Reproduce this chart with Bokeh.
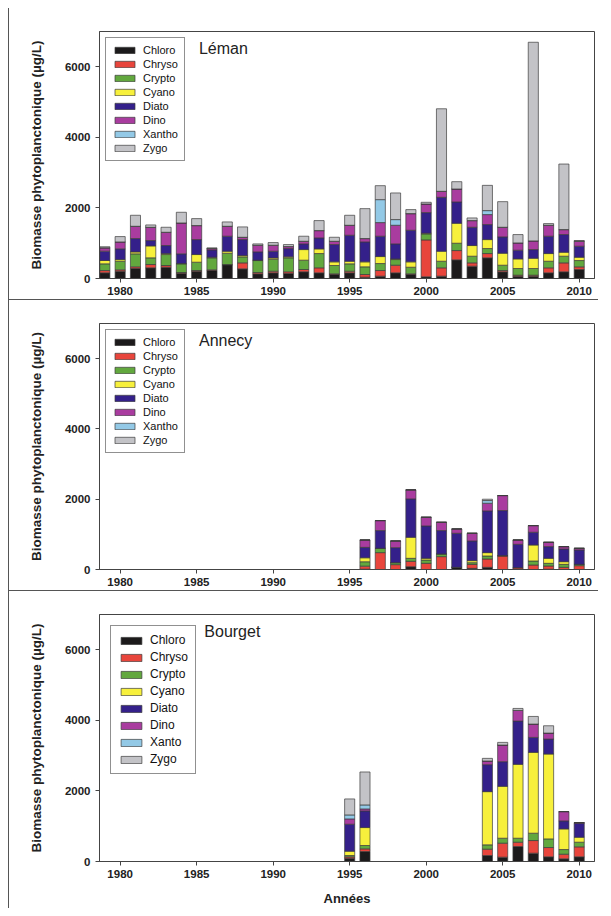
from bokeh.plotting import figure
from bokeh.models import Range1d, FixedTicker, Legend, LegendItem, Label, ColumnDataSource
from bokeh.layouts import column
from bokeh.embed import file_html
from bokeh.resources import INLINE

FONT = "Liberation Sans"

groups = ["Chloro", "Chryso", "Crypto", "Cyano", "Diato", "Dino", "Xantho", "Zygo"]
colors = ["#1c1a1b", "#e8453c", "#62a83e", "#f7f03c", "#34208a", "#a93c9f", "#93c9e6", "#c3c3c7"]
x_ticks = [1980, 1985, 1990, 1995, 2000, 2005, 2010]
y_ticks = [0, 2000, 4000, 6000]

# ---- Léman ----
leman_years = list(range(1979, 2011))
leman_chloro = [160, 207, 283, 302, 320, 151, 207, 226, 387, 273, 132, 160, 141, 189, 160, 113,
                160, 38, 66, 160, 113, 47, 66, 528, 349, 585, 189, 66, 66, 160, 189, 255]
leman_chryso = [65, 38, 47, 94, 48, 19, 19, 19, 9, 170, 38, 47, 48, 66, 142, 19,
                47, 75, 160, 217, 19, 1047, 236, 264, 94, 122, 37, 28, 28, 142, 254, 75]
leman_crypto = [190, 245, 368, 189, 311, 245, 236, 340, 321, 170, 339, 340, 396, 264, 405, 236,
                208, 217, 198, 160, 188, 170, 188, 208, 189, 142, 151, 189, 189, 188, 189, 179]
leman_cyano = [95, 47, 56, 339, 28, 9, 217, 18, 56, 38, 10, 37, 28, 301, 132, 104,
               75, 142, 198, 19, 152, 19, 283, 565, 302, 254, 340, 273, 292, 217, 113, 94]
leman_diato = [265, 303, 378, 151, 227, 274, 424, 208, 425, 452, 235, 189, 236, 161, 311, 490,
               736, 565, 576, 425, 895, 584, 1528, 604, 518, 425, 462, 246, 245, 491, 500, 312]
leman_dino = [95, 197, 348, 377, 377, 877, 397, 38, 282, 66, 189, 170, 56, 75, 208, 94,
              283, 95, 386, 528, 472, 245, 170, 368, 189, 283, 273, 207, 246, 311, 141, 141]
leman_xantho = [0, 0, 0, 0, 0, 0, 0, 0, 0, 0, 0, 0, 0, 0, 0, 0,
                0, 0, 651, 160, 0, 0, 0, 0, 0, 113, 0, 0, 0, 0, 0, 0]
leman_zygo = [30, 151, 312, 66, 141, 302, 197, 19, 123, 293, 38, 75, 57, 142, 283, 113,
              283, 848, 396, 755, 113, 48, 2339, 207, 75, 716, 726, 236, 5629, 47, 1858, 19]

# ---- Annecy ----
annecy_years = list(range(1996, 2011))
annecy_chloro = [10, 0, 0, 81, 0, 0, 62, 33, 62, 0, 0, 0, 10, 0, 0]
annecy_chryso = [86, 480, 138, 152, 176, 366, 0, 114, 237, 385, 52, 128, 90, 62, 109]
annecy_crypto = [124, 123, 57, 85, 94, 76, 0, 48, 86, 10, 0, 114, 76, 85, 38]
annecy_cyano = [114, 0, 0, 599, 48, 0, 0, 57, 95, 0, 0, 456, 142, 76, 0]
annecy_diato = [296, 504, 427, 1092, 922, 665, 969, 560, 1187, 1282, 665, 362, 333, 361, 409]
annecy_dino = [210, 285, 190, 257, 247, 237, 123, 219, 219, 427, 123, 189, 123, 67, 47]
annecy_xantho = [0, 0, 0, 0, 0, 0, 0, 0, 76, 0, 0, 0, 0, 0, 0]
annecy_zygo = [0, 0, 0, 0, 0, 0, 0, 0, 38, 0, 0, 0, 0, 0, 0]

# ---- Bourget ----
bourget_years = [1995, 1996, 2004, 2005, 2006, 2007, 2008, 2009, 2010]
bourget_chloro = [94, 283, 170, 123, 424, 236, 132, 75, 132]
bourget_chryso = [38, 75, 179, 396, 123, 358, 264, 132, 283]
bourget_crypto = [38, 95, 123, 141, 113, 208, 245, 132, 132]
bourget_cyano = [122, 509, 1508, 1471, 2094, 2291, 2405, 585, 141]
bourget_diato = [764, 471, 764, 698, 1226, 424, 424, 226, 396]
bourget_dino = [151, 57, 104, 471, 301, 378, 170, 264, 19]
bourget_xanto = [113, 113, 0, 0, 0, 0, 0, 0, 0]
bourget_zygo = [453, 934, 75, 76, 57, 216, 207, 0, 0]


def make_panel(years, series, labels, title, title_x, border_top, frame_h, border_bottom,
               xlabel=None, legend_big=False, last=False):
    p = figure(frame_width=494, frame_height=frame_h, output_backend="svg", toolbar_location=None,
               x_range=Range1d(1978.65, 2011.0), y_range=Range1d(0, 7000),
               min_border_left=90, min_border_right=5, min_border_top=border_top,
               min_border_bottom=border_bottom)
    src = ColumnDataSource(dict(year=years, **{g: s for g, s in zip(groups, series)}))
    rs = p.vbar_stack(groups, x="year", width=0.66, source=src, fill_color=colors,
                      line_color="#3c3c3c", line_width=0.7)
    items = [LegendItem(label=lab, renderers=[r]) for lab, r in zip(labels, rs)]
    if legend_big:
        leg = Legend(items=items, location="top_left", margin=11, padding=7, glyph_width=26,
                     glyph_height=9, label_height=13, spacing=3, label_standoff=6,
                     label_text_font_size="12px", label_text_font=FONT)
    else:
        leg = Legend(items=items, location="top_left", margin=6, padding=6, glyph_width=25,
                     glyph_height=8, label_height=12, spacing=2, label_standoff=6,
                     label_text_font_size="11px", label_text_font=FONT)
    leg.border_line_color = "#222222"
    leg.border_line_width = 1
    leg.label_text_color = "#111111"
    p.add_layout(leg, "center")

    p.add_layout(Label(x=title_x, y=6760, text=title, text_baseline="top", text_font=FONT,
                       text_font_size="16px", text_color="#222222"))

    p.xgrid.visible = False
    p.ygrid.visible = False
    p.outline_line_color = "#444444"
    p.outline_line_width = 1
    for ax in (p.xaxis[0], p.yaxis[0]):
        ax.major_tick_in = 0
        ax.major_tick_out = 4
        ax.minor_tick_in = 0
        ax.minor_tick_out = 0
        ax.axis_line_color = "#444444"
        ax.major_tick_line_color = "#444444"
        ax.major_label_text_font = FONT
        ax.major_label_text_font_size = "11.5px"
        ax.major_label_text_font_style = "bold"
        ax.major_label_text_color = "#222222"
    p.xaxis.ticker = FixedTicker(ticks=x_ticks)
    p.yaxis.ticker = FixedTicker(ticks=y_ticks)
    p.xaxis.major_label_standoff = 4
    p.yaxis.major_label_standoff = 5
    p.yaxis.axis_label = "Biomasse phytoplanctonique (µg/L)"
    p.yaxis.axis_label_text_font = FONT
    p.yaxis.axis_label_text_font_size = "13.5px"
    p.yaxis.axis_label_text_font_style = "bold"
    p.yaxis.axis_label_text_color = "#222222"
    p.yaxis.axis_label_standoff = 18
    if xlabel:
        p.xaxis.axis_label = xlabel
        p.xaxis.axis_label_text_font = FONT
        p.xaxis.axis_label_text_font_size = "13px"
        p.xaxis.axis_label_text_font_style = "bold"
        p.xaxis.axis_label_text_color = "#222222"
        p.xaxis.axis_label_standoff = 10
    st = {"border-left": "1px solid #555555"}
    if not last:
        st["border-bottom"] = "1px solid #555555"
    p.styles = st
    return p


p1 = make_panel(leman_years,
                [leman_chloro, leman_chryso, leman_crypto, leman_cyano, leman_diato, leman_dino,
                 leman_xantho, leman_zygo],
                groups, "Léman", 1985.15, 23, 246, 22)
p2 = make_panel(annecy_years,
                [annecy_chloro, annecy_chryso, annecy_crypto, annecy_cyano, annecy_diato,
                 annecy_dino, annecy_xantho, annecy_zygo],
                groups, "Annecy", 1985.15, 23, 245, 22)
p3 = make_panel(bourget_years,
                [bourget_chloro, bourget_chryso, bourget_crypto, bourget_cyano, bourget_diato,
                 bourget_dino, bourget_xanto, bourget_zygo],
                ["Chloro", "Chryso", "Crypto", "Cyano", "Diato", "Dino", "Xanto", "Zygo"],
                "Bourget", 1985.5, 23, 247, 46, xlabel="Années", legend_big=True, last=True)

layout = column(p1, p2, p3, spacing=0, styles={"margin-left": "8px", "margin-top": "8px"})
open("out.html", "w").write(file_html(layout, INLINE))
